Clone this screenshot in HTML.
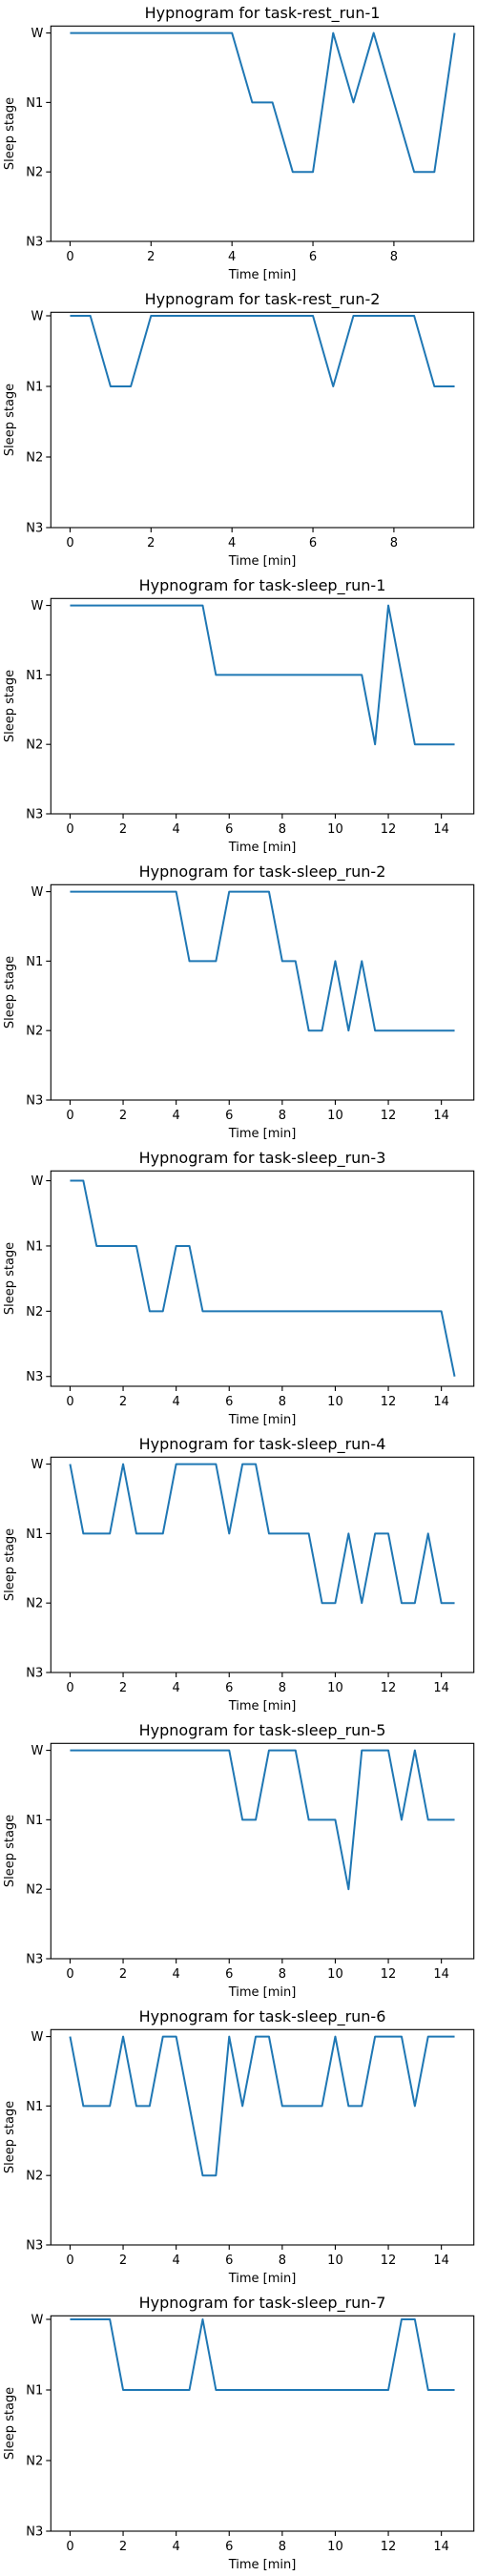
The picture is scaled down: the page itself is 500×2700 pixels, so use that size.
<!DOCTYPE html>
<html><head><meta charset="utf-8"><style>
html,body{margin:0;padding:0;background:#fff;}
svg{display:block;font-family:"DejaVu Sans","Liberation Sans",sans-serif;}
</style></head>
<body>
<svg id="fig" width="500" height="2700" viewBox="0 0 500 2700" xmlns="http://www.w3.org/2000/svg"></svg>
<script>
const titles = ["task-rest_run-1","task-rest_run-2","task-sleep_run-1","task-sleep_run-2","task-sleep_run-3","task-sleep_run-4","task-sleep_run-5","task-sleep_run-6","task-sleep_run-7"];
const stageLabels = ["W","N1","N2","N3"];
const stepMin = 0.5;
const rest1 = [0,0,0,0,0,0,0,0,0,1,1,2,2,0,1,0,1,2,2,0];
const rest2 = [0,0,1,1,0,0,0,0,0,0,0,0,0,1,0,0,0,0,1,1];
const sleep1 = [0,0,0,0,0,0,0,0,0,0,0,1,1,1,1,1,1,1,1,1,1,1,1,2,0,1,2,2,2,2];
const sleep2 = [0,0,0,0,0,0,0,0,0,1,1,1,0,0,0,0,1,1,2,2,1,2,1,2,2,2,2,2,2,2];
const sleep3 = [0,0,1,1,1,1,2,2,1,1,2,2,2,2,2,2,2,2,2,2,2,2,2,2,2,2,2,2,2,3];
const sleep4 = [0,1,1,1,0,1,1,1,0,0,0,0,1,0,0,1,1,1,1,2,2,1,2,1,1,2,2,1,2,2];
const sleep5 = [0,0,0,0,0,0,0,0,0,0,0,0,0,1,1,0,0,0,1,1,1,2,0,0,0,1,0,1,1,1];
const sleep6 = [0,1,1,1,0,1,1,0,0,1,2,2,0,1,0,0,1,1,1,1,0,1,1,0,0,0,1,0,0,0];
const sleep7 = [0,0,0,0,1,1,1,1,1,1,0,1,1,1,1,1,1,1,1,1,1,1,1,1,1,0,0,1,1,1];
const series = [rest1,rest2,sleep1,sleep2,sleep3,sleep4,sleep5,sleep6,sleep7];

const NS = "http://www.w3.org/2000/svg";
const svg = document.getElementById("fig");
function mk(tag, attrs, parent){
  const e = document.createElementNS(NS, tag);
  for (const k in attrs) e.setAttribute(k, attrs[k]);
  parent.appendChild(e);
  return e;
}
const AX_L = 53.3, AX_R = 496.7, AX_T = 27.3, AX_B = 253;
series.forEach((vals, p) => {
  const oy = p * 300;
  const g = mk("g", {}, svg);
  
  
  const tMax = (vals.length - 1) * stepMin;
  const xlo = -0.05 * tMax, xhi = tMax * 1.05;
  const dmin = Math.min(...vals), dmax = Math.max(...vals);
  const rng = dmax - dmin;
  const ylo = dmin - 0.05 * rng;
  const yhi = Math.max(3, dmax + 0.05 * rng);
  const xs = t => AX_L + (t - xlo) / (xhi - xlo) * (AX_R - AX_L);
  const ys = v => oy + AX_T + (v - ylo) / (yhi - ylo) * (AX_B - AX_T);

  const title = mk("text", {x: (AX_L + AX_R) / 2, y: oy + 19, "text-anchor": "middle", "font-size": "16", fill: "#000"}, g);
  
  
  title.textContent = "Hypnogram for " + titles[p];

  // line
  const pts = vals.map((v, i) => xs(i * stepMin).toFixed(2) + "," + ys(v).toFixed(2)).join(" ");
  const line = mk("polyline", {points: pts, fill: "none", stroke: "#1f77b4", "stroke-width": "2", "stroke-linejoin": "round"}, g);
  
  

  const frame = mk("rect", {x: AX_L, y: oy + AX_T, width: AX_R - AX_L, height: AX_B - AX_T, fill: "none", stroke: "#000", "stroke-width": "1.1"}, g);
  
  

  // y ticks
  stageLabels.forEach((lab, s) => {
    const y = ys(s);
    mk("line", {x1: AX_L - 5, x2: AX_L, y1: y, y2: y, stroke: "#000", "stroke-width": "1.1"}, g);
    const t = mk("text", {x: AX_L - 8, y: y + 4.5, "text-anchor": "end", "font-size": "13", fill: "#000"}, g);
    
    
    t.textContent = lab;
  });
  // x ticks
  for (let tk = 0; tk <= tMax; tk += 2) {
    const x = xs(tk);
    mk("line", {x1: x, x2: x, y1: oy + AX_B, y2: oy + AX_B + 5, stroke: "#000", "stroke-width": "1.1"}, g);
    const t = mk("text", {x: x, y: oy + AX_B + 20, "text-anchor": "middle", "font-size": "13", fill: "#000"}, g);
    
    
    t.textContent = String(tk);
  }
  const xl = mk("text", {x: (AX_L + AX_R) / 2, y: oy + 292, "text-anchor": "middle", "font-size": "13", fill: "#000"}, g);
  
  
  xl.textContent = "Time [min]";
  const yl = mk("text", {x: 0, y: 0, "text-anchor": "middle", "font-size": "13", fill: "#000", transform: "translate(14," + (oy + 140) + ") rotate(-90)"}, g);
  
  
  yl.textContent = "Sleep stage";
});
</script>
</body></html>
